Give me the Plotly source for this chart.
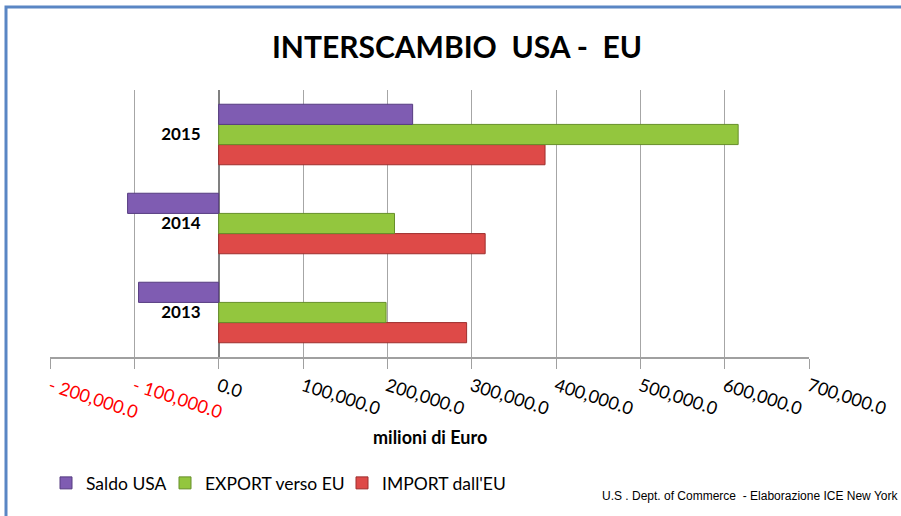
import plotly.graph_objects as go

years = ["2013", "2014", "2015"]
saldo = [-95000, -108000, 230000]
export_eu = [198500, 208500, 616000]
import_eu = [294000, 316000, 387000]

series_names = ["Saldo USA", "EXPORT verso EU", "IMPORT dall'EU"]
tick_vals = [-200000, -100000, 0, 100000, 200000, 300000, 400000, 500000, 600000, 700000]
tick_text = ["- 200,000.0", "- 100,000.0", "0.0", "100,000.0", "200,000.0", "300,000.0",
             "400,000.0", "500,000.0", "600,000.0", "700,000.0"]

W, H = 901, 516
L, R, T, B = 50, 92, 90, 159
PW, PH = W - L - R, H - T - B
XMIN, XMAX = -200000, 700000


def px_x(p):
    return (p - L) / PW


def px_y(p):
    return (H - B - p) / PH


fill = {"Saldo USA": "#7F5CB2", "EXPORT verso EU": "#93C63E", "IMPORT dall'EU": "#DE4A48"}
edge = {"Saldo USA": "#563C80", "EXPORT verso EU": "#678F2A", "IMPORT dall'EU": "#9E2F2E"}
# each series gets its own legend box so the entries sit where the reference has them
legend_id = {"Saldo USA": "legend", "EXPORT verso EU": "legend2", "IMPORT dall'EU": "legend3"}
legend_px = {"Saldo USA": 46, "EXPORT verso EU": 165, "IMPORT dall'EU": 342}

fig = go.Figure()
# plotly stacks horizontal groups bottom-up: first trace lowest
for name, vals in [(series_names[2], import_eu),
                   (series_names[1], export_eu),
                   (series_names[0], saldo)]:
    fig.add_trace(go.Bar(
        y=years, x=vals, name=name, orientation="h",
        marker=dict(color=fill[name], line=dict(color=edge[name], width=1)),
        legend=legend_id[name],
    ))

ticktext_colored = [
    f'<span style="color:#FF0000">{t}</span>' if v < 0 else t
    for v, t in zip(tick_vals, tick_text)
]

FONT = "Lato, Liberation Sans, sans-serif"


def legend_box(name):
    return dict(
        orientation="h", x=px_x(legend_px[name]), xanchor="left",
        y=px_y(483), yanchor="middle",
        font=dict(size=17.5, color="#000", family=FONT), itemwidth=30,
        bgcolor="rgba(0,0,0,0)",
    )


fig.update_layout(
    width=W, height=H,
    margin=dict(l=L, r=R, t=T, b=B, autoexpand=False),
    paper_bgcolor="white", plot_bgcolor="white",
    barmode="group", bargap=0.32, bargroupgap=0,
    font=dict(family=FONT, color="#000000"),
    title=dict(text="<b>INTERSCAMBIO  USA -  EU</b>", x=457 / W,
               xanchor="center", y=1 - 47 / H, yanchor="middle",
               font=dict(size=30, family=FONT, color="#000")),
    xaxis=dict(
        range=[XMIN, XMAX], tickvals=tick_vals, ticktext=ticktext_colored,
        tickangle=18, tickfont=dict(size=18, color="#000"),
        showgrid=True, gridcolor="#A6A6A6", gridwidth=1,
        zeroline=True, zerolinecolor="#808080", zerolinewidth=1.5,
        showline=True, linecolor="#A0A0A0", linewidth=2,
        ticks="outside", ticklen=10, tickcolor="#A0A0A0", tickwidth=1,
        automargin=False, fixedrange=True,
    ),
    yaxis=dict(
        categoryorder="array", categoryarray=years,
        anchor="free", position=(0 - XMIN) / (XMAX - XMIN),
        showgrid=False, zeroline=False, showline=False, ticks="",
        tickfont=dict(size=17, color="#000", family=FONT, weight="bold"),
        ticklabelstandoff=18, automargin=False, fixedrange=True,
    ),
    legend=legend_box("Saldo USA"),
    legend2=legend_box("EXPORT verso EU"),
    legend3=legend_box("IMPORT dall'EU"),
    showlegend=True,
)

fig.add_annotation(
    text="<b>milioni di Euro</b>", xref="paper", yref="paper",
    x=0.5, y=px_y(437), xanchor="center", yanchor="middle",
    showarrow=False, font=dict(size=18, color="#000"),
)
fig.add_annotation(
    text="U.S . Dept. of Commerce  - Elaborazione ICE New York", xref="paper", yref="paper",
    x=px_x(900), y=px_y(496), xanchor="right", yanchor="middle",
    showarrow=False,
    font=dict(size=12, color="#000", family="Liberation Sans Narrow, Arial Narrow, Liberation Sans, sans-serif"),
)

fig.add_shape(
    type="rect", xref="paper", yref="paper",
    x0=px_x(6), x1=px_x(910), y0=px_y(7), y1=px_y(530),
    line=dict(color="#5A86C4", width=3), fillcolor="rgba(0,0,0,0)", layer="below",
)

fig.write_html(
    "out.html",
    config={"displayModeBar": False},
    post_script="document.body.style.margin='0';document.body.style.overflow='hidden';",
)
